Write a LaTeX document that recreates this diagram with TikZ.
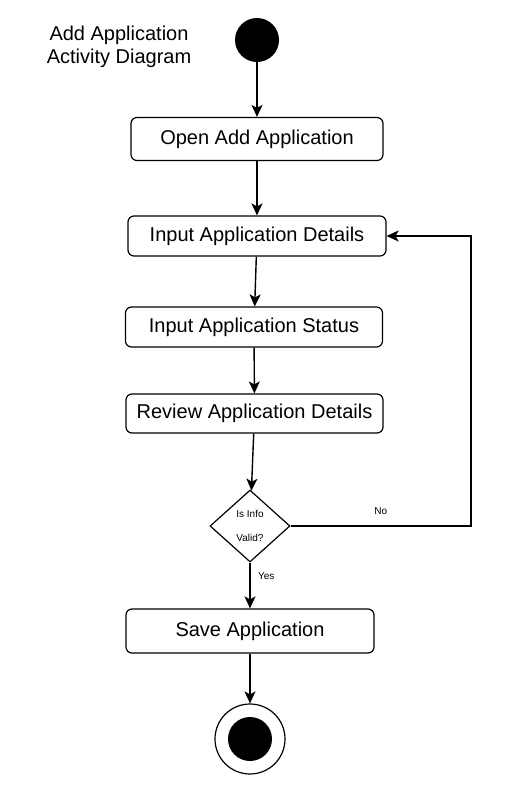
\documentclass[tikz,border=0pt]{standalone}
\usepackage{fontspec}
\setmainfont{Liberation Sans}
\usetikzlibrary{arrows.meta,shapes.geometric}
\begin{document}
\begin{tikzpicture}
[x=1pt,y=-1pt,
  boxDecorate/.style={shape=rectangle,rounded corners=6pt,draw,line width=1.2pt,inner sep=0pt,font=\fontsize{20}{24}\selectfont},
  lineDecorate/.style={-{Stealth[length=12pt,width=11pt,inset=3pt]},line width=1.4pt},
  dotDecorate/.style={shape=circle,fill=black,inner sep=0pt,minimum size=44},
  smallText/.style={font=\fontsize{10}{12}\selectfont}]
\useasboundingbox (0,0) rectangle (510,800);
%% title
\node (title) at (119,47) [align=center,font=\fontsize{20}{23.5}\selectfont] {Add Application\\Activity Diagram};
%% start and end
\node (start) at (257,40) [dotDecorate] {};
\node (end) at (250,739) [shape=circle,draw,line width=1.2pt,inner sep=0pt,minimum size=70] {};
\node (endDot) at (end.center) [dotDecorate] {};
%% activities
\foreach \nodename/\x/\y/\w/\h/\txt in {
  open/257/139/252/43/Open Add Application,
  details/257/236/258/40/Input Application Details,
  status/254/327/257/40/Input Application Status,
  review/254.5/413.5/257/39/Review Application Details,
  save/250/631/248/44/Save Application}
{
  \node (\nodename) at (\x,\y) [boxDecorate,minimum width=\w,minimum height=\h] {\txt};
}
%% decision
\node (valid) at (250,526) [shape=diamond,draw,line width=1.2pt,inner sep=0pt,
  minimum width=80,minimum height=72,align=center,smallText] {Is Info\\[12pt]Valid?};
\coordinate (back) at (471,236);
%% flows
\path
\foreach \startnode/\endnode in {
  start/open, open/details, details/status, status/review, review/valid, save/end}
{
  (\startnode) edge[lineDecorate] (\endnode)
};
\draw[lineDecorate] (valid) -- node[pos=0.3,right=4pt,smallText] {Yes} (save);
\draw[lineDecorate] (valid.east) -| node[pos=0.25,above=7pt,smallText] {No} (back) -- (details.east);
\end{tikzpicture}
\end{document}
